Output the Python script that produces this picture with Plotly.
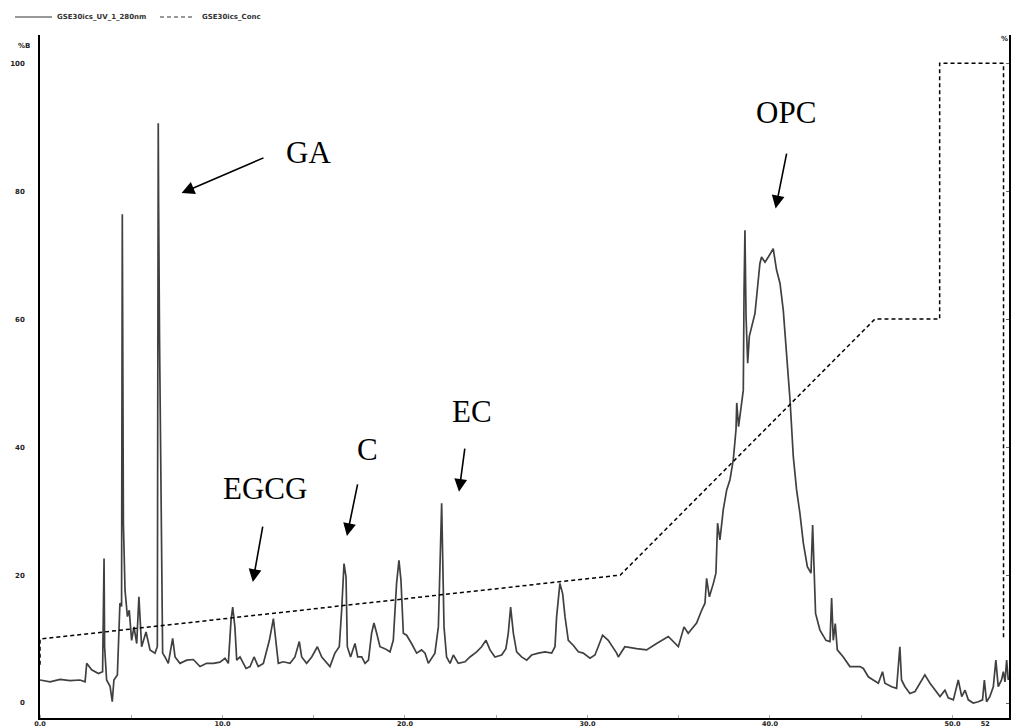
import plotly.graph_objects as go

# ---- UV chromatogram (time in min, signal) ----
uv_time = [0.00, 0.55, 1.10, 1.64, 2.19, 2.47, 2.56, 2.83, 3.20, 3.43, 3.51, 3.54, 3.65, 3.84, 3.96,
           4.05, 4.24, 4.38, 4.47, 4.51, 4.57, 4.66, 4.79, 4.89, 5.02, 5.15, 5.30, 5.42, 5.57, 5.81,
           6.03, 6.30, 6.43, 6.46, 6.48, 6.50, 6.55, 6.67, 6.72, 6.85, 7.03, 7.27, 7.40, 7.67, 8.04,
           8.40, 8.77, 9.13, 9.50, 9.86, 10.14, 10.32, 10.47, 10.56, 10.68, 10.78, 10.96, 11.29, 11.51,
           11.73, 11.96, 12.24, 12.57, 12.79, 12.93, 13.06, 13.33, 13.70, 13.97, 14.21, 14.34, 14.61,
           14.89, 15.20, 15.44, 15.71, 15.89, 16.16, 16.40, 16.53, 16.66, 16.77, 16.84, 17.02, 17.26,
           17.41, 17.63, 17.81, 18.00, 18.17, 18.30, 18.45, 18.63, 18.90, 19.18, 19.36, 19.54, 19.67,
           19.78, 19.91, 20.09, 20.36, 20.64, 20.91, 21.10, 21.28, 21.64, 21.83, 21.92, 22.01, 22.06,
           22.14, 22.28, 22.47, 22.65, 22.92, 23.29, 23.56, 23.93, 24.20, 24.44, 24.66, 24.93, 25.30,
           25.53, 25.66, 25.79, 25.94, 26.12, 26.39, 26.67, 26.94, 27.31, 27.67, 28.04, 28.22, 28.31,
           28.49, 28.64, 28.77, 28.95, 29.23, 29.50, 29.77, 30.14, 30.41, 30.59, 30.83, 31.14, 31.38,
           31.60, 31.69, 32.05, 32.69, 33.24, 33.79, 34.43, 34.98, 35.29, 35.52, 35.98, 36.26, 36.44,
           36.53, 36.68, 36.90, 37.04, 37.13, 37.26, 37.44, 37.63, 37.81, 37.99, 38.14, 38.18, 38.28,
           38.39, 38.54, 38.58, 38.63, 38.69, 38.78, 38.87, 39.00, 39.18, 39.27, 39.45, 39.54, 39.73,
           39.91, 40.18, 40.36, 40.55, 40.73, 40.91, 41.10, 41.28, 41.46, 41.64, 41.83, 42.05, 42.25,
           42.34, 42.43, 42.50, 42.74, 43.07, 43.29, 43.38, 43.47, 43.58, 43.69, 44.02, 44.38, 44.75,
           44.93, 45.12, 45.39, 45.66, 45.94, 46.17, 46.30, 46.67, 46.94, 47.12, 47.21, 47.40, 47.67,
           47.95, 48.22, 48.49, 48.77, 49.04, 49.32, 49.59, 49.77, 50.05, 50.32, 50.51, 50.69, 50.87,
           51.14, 51.42, 51.65, 51.75, 51.87, 52.05, 52.24, 52.38, 52.51, 52.69, 52.79, 52.88, 52.97,
           53.06]
uv_signal = [3.6, 3.3, 3.7, 3.5, 3.6, 3.3, 6.2, 5.2, 4.6, 4.9, 22.6, 8.8, 3.6, 2.6, 0.2,
             3.6, 4.4, 15.6, 15.1, 76.4, 28.1, 17.6, 13.5, 14.5, 9.8, 11.9, 9.3, 16.6, 8.8, 11.1,
             8.3, 7.8, 8.8, 56.7, 90.6, 78.0, 57.0, 23.4, 7.8, 7.2, 6.2, 10.1, 7.2, 6.2, 6.7,
             6.8, 5.7, 6.2, 6.2, 6.4, 7.0, 6.2, 13.0, 15.0, 11.9, 6.7, 7.2, 5.4, 5.7,
             7.2, 5.7, 6.2, 9.8, 13.2, 9.8, 6.2, 6.45, 6.2, 7.2, 9.6, 7.2, 6.2,
             7.2, 8.8, 7.2, 6.2, 5.7, 7.8, 8.8, 14.5, 21.8, 19.7, 8.8, 7.2, 9.3,
             7.2, 7.2, 6.2, 6.7, 10.9, 12.5, 10.9, 8.8, 8.5, 8.0, 9.8, 18.7, 22.3,
             19.2, 10.9, 10.6, 9.3, 7.8, 8.3, 7.8, 6.2, 7.8, 11.9, 23.9, 31.2, 23.9,
             11.9, 7.2, 6.2, 7.5, 6.2, 6.45, 7.2, 8.0, 8.8, 9.8, 8.3, 7.2, 7.5,
             8.5, 10.9, 15.0, 10.9, 8.0, 7.2, 6.7, 7.5, 7.8, 8.0, 7.8, 8.8, 13.5,
             18.7, 17.1, 13.5, 9.8, 9.0, 8.0, 7.8, 7.0, 7.5, 8.8, 10.6, 9.8, 8.8,
             7.8, 7.2, 8.8, 8.5, 8.3, 9.3, 10.4, 8.8, 11.9, 10.9, 12.5, 14.5, 15.6,
             19.5, 16.6, 18.7, 20.3, 28.1, 25.5, 30.2, 33.3, 34.9, 38.0, 42.7, 46.9, 43.2,
             45.8, 48.9, 64.0, 73.9, 60.4, 53.1, 57.3, 58.8, 60.9, 63.5, 68.7, 69.7, 68.9,
             69.7, 71.0, 67.7, 65.6, 61.4, 54.6, 47.4, 38.5, 33.3, 29.7, 25.0, 21.3, 20.3,
             27.8, 21.3, 14.0, 11.4, 9.8, 9.6, 16.4, 9.8, 12.4, 8.3, 7.2, 5.7, 5.7,
             5.7, 5.4, 4.1, 3.6, 3.1, 4.9, 3.1, 2.55, 2.3, 8.8, 3.6, 2.55, 1.5,
             1.8, 3.1, 4.4, 3.1, 2.0, 1.0, 2.0, 0.8, 0.5, 3.6, 1.0, 2.0, 0.5,
             0.0, 0.2, 0.5, 3.6, 0.2, 1.0, 2.55, 6.7, 2.55, 3.6, 4.9, 3.3, 6.7,
             3.6]

# ---- Gradient concentration (%B) ----
grad_time = [0.0, 0.0, 31.8, 45.75, 49.3, 49.3, 52.8, 52.8]
grad_conc = [6.0, 10.0, 20.0, 60.0, 60.0, 100.0, 100.0, 10.0]

# ---- axis ticks ----
x_tickvals = [0, 10, 20, 30, 40, 50, 51.8]
x_ticktext = ["0.0", "10.0", "20.0", "30.0", "40.0", "50.0", "52"]
y_tickvals = [0, 20, 40, 60, 80, 100]
y_ticktext = ["0", "20", "40", "60", "80", "100"]

# ---- peak labels ----
labels = ["GA", "OPC", "EC", "C", "EGCG"]
label_t = [14.74, 40.88, 23.67, 17.92, 12.33]
label_v = [86.1, 92.3, 45.6, 39.7, 33.6]
tail_t = [12.33, 40.93, 23.29, 17.42, 12.22]
tail_v = [85.3, 86.1, 40.0, 34.4, 27.8]
head_t = [7.76, 40.31, 22.96, 16.82, 11.66]
head_v = [79.7, 77.3, 33.0, 26.1, 18.9]

fig = go.Figure()
fig.add_trace(go.Scatter(x=uv_time, y=uv_signal, mode="lines",
                         line=dict(color="#404040", width=1.7), showlegend=False))
fig.add_trace(go.Scatter(x=grad_time, y=grad_conc, mode="lines", yaxis="y2",
                         line=dict(color="black", width=1.5, dash="4px,3px"), showlegend=False))

W, H = 1013, 728
L, R, T, B = 40, 4, 35, 10
pw, ph = W - L - R, H - T - B

def px2paper(px, py):
    return (px - L) / pw, (H - B - py) / ph

tickfont = dict(family="DejaVu Sans", size=7, color="#222", weight="bold")
xtickfont = dict(family="DejaVu Sans", size=6.5, color="#222", weight="bold")

fig.update_layout(
    width=W, height=H, margin=dict(l=L, r=R, t=T, b=B, autoexpand=False),
    paper_bgcolor="white", plot_bgcolor="white",
    xaxis=dict(range=[0, 53.1], showgrid=False, zeroline=False, showline=True,
               linecolor="black", linewidth=1.5, ticks="",
               tickvals=x_tickvals, ticktext=x_ticktext, tickfont=xtickfont,
               ticklabelstandoff=-2, automargin=False,
               minor=dict(ticks="inside", ticklen=3, tickcolor="#aaa", dtick=5, tick0=0)),
    yaxis=dict(range=[-2.34, 104.4], showgrid=False, zeroline=False, showline=True,
               linecolor="black", linewidth=1.5, ticks="", tickvals=y_tickvals,
               ticktext=y_ticktext, tickfont=tickfont, ticklabelstandoff=12, automargin=False),
    yaxis2=dict(range=[-2.34, 104.4], overlaying="y", side="right", showgrid=False,
                zeroline=False, showline=True, linecolor="black", linewidth=1.5,
                ticks="inside", ticklen=3, tickcolor="#666", tickvals=y_tickvals,
                showticklabels=False, automargin=False),
)

ann = []
for i, lab in enumerate(labels):
    ann.append(dict(x=label_t[i], y=label_v[i], xref="x", yref="y", text=lab, showarrow=False,
                    font=dict(family="Liberation Serif", size=31, color="black")))
    ann.append(dict(x=head_t[i], y=head_v[i], xref="x", yref="y", ax=tail_t[i], ay=tail_v[i],
                    axref="x", ayref="y", text="", showarrow=True, arrowhead=2, arrowsize=1.6,
                    arrowwidth=1.6, arrowcolor="black", standoff=0, startstandoff=0))

lx, ly = px2paper(55, 17)
ann.append(dict(x=lx, y=ly, xref="paper", yref="paper", text="GSE30ics_UV_1_280nm",
                showarrow=False, xanchor="left", yanchor="middle",
                font=dict(family="DejaVu Sans", size=7, color="#333", weight="bold")))
lx2, _ = px2paper(200, 17)
ann.append(dict(x=lx2, y=ly, xref="paper", yref="paper", text="GSE30ics_Conc",
                showarrow=False, xanchor="left", yanchor="middle",
                font=dict(family="DejaVu Sans", size=7, color="#333", weight="bold")))
ux, uy = px2paper(16, 40)
ann.append(dict(x=ux, y=uy, xref="paper", yref="paper", text="%B", showarrow=False,
                font=dict(family="DejaVu Sans", size=7, color="#222", weight="bold")))
rx, ry = px2paper(1010, 33)
ann.append(dict(x=rx, y=ry, xref="paper", yref="paper", text="%", showarrow=False,
                font=dict(family="DejaVu Sans", size=7, color="#222", weight="bold")))
fig.update_layout(annotations=ann)

sx0, sy = px2paper(15, 17)
sx1, _ = px2paper(52, 17)
dx0, _ = px2paper(160, 17)
dx1, _ = px2paper(195, 17)
fig.update_layout(shapes=[
    dict(type="line", xref="paper", yref="paper", x0=sx0, x1=sx1, y0=sy, y1=sy,
         line=dict(color="#333", width=1)),
    dict(type="line", xref="paper", yref="paper", x0=dx0, x1=dx1, y0=sy, y1=sy,
         line=dict(color="#333", width=1, dash="4px,3px")),
])

fig.write_html("out.html")
